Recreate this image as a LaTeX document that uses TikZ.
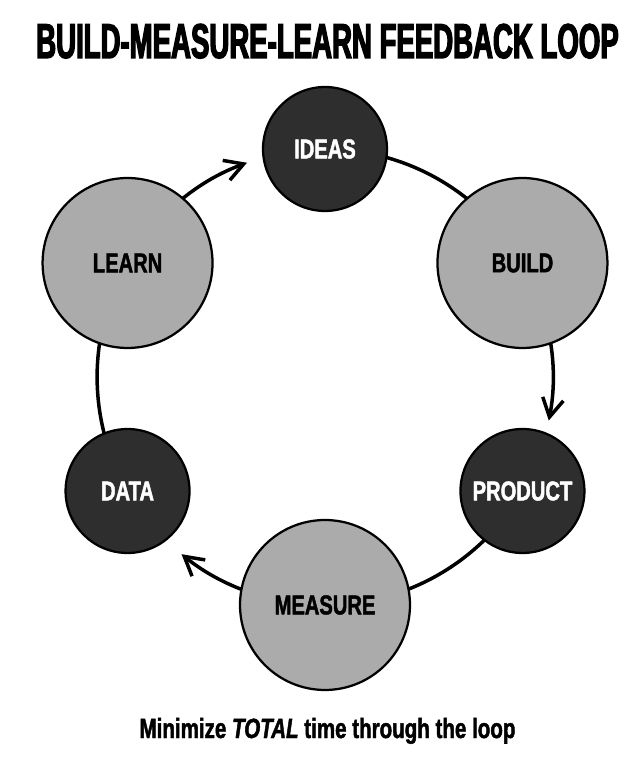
\documentclass[tikz,border=0pt]{standalone}
\usepackage{fontspec}
\setmainfont{Liberation Sans}
\newfontfamily\condfont[FakeStretch=0.74,FakeBold=1.6]{Liberation Sans}
\newfontfamily\titlefont[FakeStretch=0.565,FakeBold=2.6]{Liberation Sans}
\usetikzlibrary{arrows.meta,backgrounds}
\begin{document}
\begin{tikzpicture}[x=0.02cm,y=0.02cm,
  big/.style={circle,draw,line width=0.045cm,fill=black!33,minimum size=3.4cm,inner sep=0pt,
    font=\condfont\bfseries\fontsize{15.5}{16}\selectfont},
  small/.style={big,fill=black!82,text=white,minimum size=2.48cm},
  link/.style={line width=0.07cm},
  >={Straight Barb[length=0.37cm,width=0.42cm]}]
\useasboundingbox (0,0) rectangle (642,764);
\coordinate (c) at (325,387);
\node[small] (ideas) at ([shift={(90:228)}]c) {IDEAS};
\node[big] (build) at ([shift={(30:228)}]c) {BUILD};
\node[small] (product) at ([shift={(-30:228)}]c) {PRODUCT};
\node[big] (measure) at ([shift={(-90:228)}]c) {MEASURE};
\node[small] (data) at ([shift={(-150:228)}]c) {DATA};
\node[big] (learn) at ([shift={(150:228)}]c) {LEARN};
\coordinate (toproduct) at ([shift={(-11:228)}]c);
\coordinate (todata) at ([shift={(-129:228)}]c);
\coordinate (toideas) at ([shift={(110:228)}]c);
\begin{pgfonlayer}{background}
\draw[link] (ideas.center) to[bend left=30,looseness=0.913] (build.center);
\draw[link,->] (build.center) to[bend left=20.5,looseness=0.879] (toproduct);
\draw[link] (product.center) to[bend left=30,looseness=0.913] (measure.center);
\draw[link,->] (measure.center) to[bend left=19.5,looseness=0.876] (todata);
\draw[link] (data.center) to[bend left=30,looseness=0.913] (learn.center);
\draw[link,->] (learn.center) to[bend left=20,looseness=0.878] (toideas);
\end{pgfonlayer}
\node[anchor=base,font=\titlefont\bfseries\fontsize{27.8}{30}\selectfont] (title) at (327.5,706) {BUILD-MEASURE-LEARN FEEDBACK LOOP};
\node[anchor=base,font=\condfont\bfseries\fontsize{15.8}{18}\selectfont] (caption) at (327.5,26) {Minimize \textit{TOTAL} time through the loop};
\end{tikzpicture}
\end{document}
